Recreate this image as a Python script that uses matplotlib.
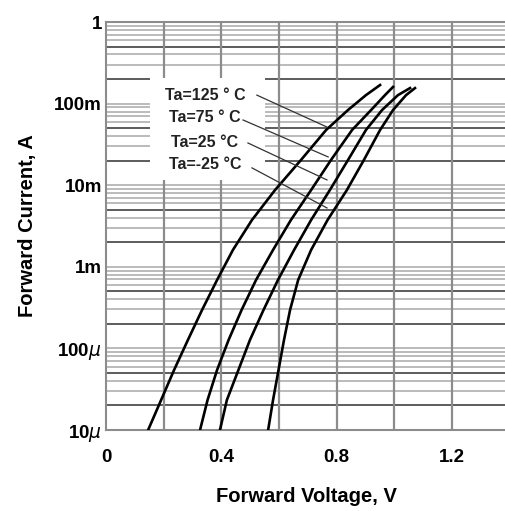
import numpy as np
import matplotlib
matplotlib.use("Agg")
import matplotlib.pyplot as plt
from matplotlib.patches import Rectangle

plt.rcParams['font.family'] = ['Liberation Sans', 'DejaVu Sans']

# Forward current levels (A) at which the curves were read
i_read = [1.0e-5, 2.33e-5, 5.44e-5, 1.27e-4, 2.96e-4, 6.89e-4, 1.61e-3,
          3.75e-3, 8.73e-3, 2.04e-2, 4.75e-2, 8.35e-2, 0.127]

# Forward voltage (V) for each temperature, plus the end point of each curve
v_125 = [0.146, 0.191, 0.236, 0.284, 0.333, 0.385, 0.440,
         0.506, 0.586, 0.676, 0.763, 0.839, 0.901, 0.950]
i_125 = i_read + [0.169]
v_75 = [0.326, 0.352, 0.385, 0.425, 0.470, 0.520, 0.579,
        0.641, 0.711, 0.780, 0.853, 0.919, 0.967, 0.995]
i_75 = i_read + [0.160]
v_25 = [0.395, 0.419, 0.459, 0.499, 0.546, 0.596, 0.652,
        0.711, 0.776, 0.839, 0.901, 0.957, 1.012, 1.054]
i_25 = i_read + [0.155]
v_m25 = [0.562, 0.579, 0.598, 0.617, 0.638, 0.666, 0.711,
         0.768, 0.835, 0.894, 0.950, 0.995, 1.040, 1.071]
i_m25 = i_read + [0.155]

labels = ['Ta=125 ° C', 'Ta=75 ° C', 'Ta=25 °C', 'Ta=-25 °C']
ytick_vals = [1e-5, 1e-4, 1e-3, 1e-2, 1e-1, 1]
ytick_labels = [r'10$\mu$', r'100$\mu$', '1m', '10m', '100m', '1']
xtick_vals = [0, 0.4, 0.8, 1.2]
xtick_labels = ['0', '0.4', '0.8', '1.2']

# label positions and leader line ends (V, A)
label_xy = [(0.343, 0.127), (0.343, 0.0667), (0.343, 0.0338), (0.343, 0.0177)]
leader_start = [(0.523, 0.127), (0.475, 0.063), (0.492, 0.0329), (0.506, 0.0163)]
leader_end = [(0.766, 0.0516), (0.770, 0.0222), (0.766, 0.0116), (0.766, 0.00526)]

fig = plt.figure(figsize=(5.06, 5.11), dpi=100)
ax = fig.add_axes([106 / 506, 81 / 511, 400 / 506, 408 / 511])
ax.set_yscale('log')
ax.set_xlim(0, 400 / 288.5)
ax.set_ylim(1e-5, 1)

# grid: every 1..9 per decade, 2 and 5 darker
for d in range(-5, 0):
    for k in range(1, 10):
        y = k * 10.0 ** d
        if k in (2, 5):
            ax.axhline(y, color='#303030', lw=1.1, zorder=1)
        else:
            ax.axhline(y, color='#a8a8a8', lw=1.1, zorder=1)
for x in [0.2, 0.4, 0.6, 0.8, 1.0, 1.2]:
    ax.axvline(x, color='#8c8c8c', lw=1.6, zorder=1)

# white box behind the labels
ax.add_patch(Rectangle((44 / 288.5, 0.0116), 115 / 288.5, 0.206 - 0.0116,
                       facecolor='white', edgecolor='none', zorder=2))

for v, i in [(v_125, i_125), (v_75, i_75), (v_25, i_25), (v_m25, i_m25)]:
    ax.plot(v, i, color='black', lw=1.9, zorder=4, solid_joinstyle='round')

for lab, xy, s, e in zip(labels, label_xy, leader_start, leader_end):
    ax.text(xy[0], xy[1], lab, ha='center', va='center', fontsize=11.5,
            fontweight='bold', color='#222222', zorder=5)
    ax.plot([s[0], e[0]], [s[1], e[1]], color='#333333', lw=0.9, zorder=5)

ax.set_yticks(ytick_vals)
ax.set_yticklabels(ytick_labels)
ax.set_xticks(xtick_vals)
ax.set_xticklabels(xtick_labels)
ax.minorticks_off()
ax.tick_params(length=0, labelsize=13.5)
ax.tick_params(axis='x', pad=14)
ax.tick_params(axis='y', pad=3)
for t in ax.get_xticklabels() + ax.get_yticklabels():
    t.set_fontweight('bold')

for side in ['left', 'bottom', 'top']:
    ax.spines[side].set_color('#8c8c8c')
    ax.spines[side].set_linewidth(1.5)
ax.spines['right'].set_visible(False)

ax.set_xlabel('Forward Voltage, V', fontsize=14.5, fontweight='bold', labelpad=15)
ax.set_ylabel('Forward Current, A', fontsize=14.5, fontweight='bold', labelpad=12)

fig.savefig('out.png', dpi=100)
